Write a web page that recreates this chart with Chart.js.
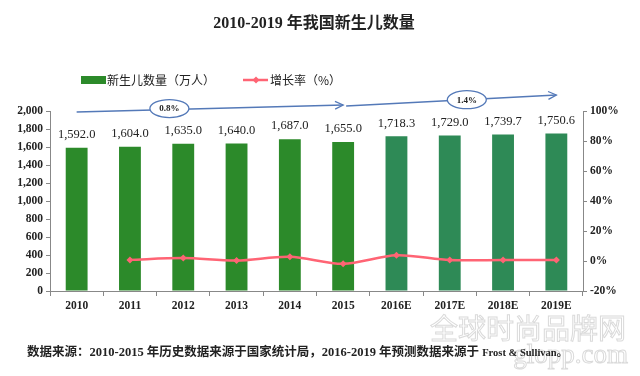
<!DOCTYPE html>
<html>
<head>
<meta charset="utf-8">
<script src="https://cdn.jsdelivr.net/npm/chart.js@4.4.0/dist/chart.umd.min.js"></script>
<style>
html,body{margin:0;padding:0;background:#fff;}
#wrap{width:640px;height:376px;position:relative;}
</style>
</head>
<body>
<div id="wrap"><canvas id="c" width="640" height="376"></canvas></div>
<script>
const titleText = '2010-2019 年我国新生儿数量';
const categories = ['2010','2011','2012','2013','2014','2015','2016E','2017E','2018E','2019E'];
const births = [1592.0,1604.0,1635.0,1640.0,1687.0,1655.0,1718.3,1729.0,1739.7,1750.6];
const growth = [null,0.75,1.93,0.31,2.87,-1.90,3.82,0.62,0.62,0.63];
const birthsLabel = '新生儿数量（万人）';
const growthLabel = '增长率（%）';
const cagrLabels = ['0.8%','1.4%'];
const sourceMain = '数据来源：2010-2015 年历史数据来源于国家统计局，2016-2019 年预测数据来源于 ';
const sourceTail = 'Frost & Sullivan。';
const watermark1 = '全球时尚品牌网';
const watermark2 = 'glopp.com';

const SERIF = '"Liberation Serif","Noto Sans CJK SC",serif';
const CJK = '"Noto Sans CJK SC","Liberation Serif",sans-serif';
const histColor = '#2C8A2A';
const foreColor = '#2E8A56';
const lineColor = '#FF6474';
const arrowColor = '#5479B8';

const barColors = categories.map(c => c.endsWith('E') ? foreColor : histColor);

function drawArrowLine(ctx, x1, y1, x2, y2, head) {
  ctx.beginPath(); ctx.moveTo(x1, y1); ctx.lineTo(x2, y2); ctx.stroke();
  if (head) {
    const a = Math.atan2(y2 - y1, x2 - x1);
    ctx.beginPath();
    ctx.moveTo(x2 - 9*Math.cos(a - 0.45), y2 - 9*Math.sin(a - 0.45));
    ctx.lineTo(x2, y2);
    ctx.lineTo(x2 - 9*Math.cos(a + 0.45), y2 - 9*Math.sin(a + 0.45));
    ctx.stroke();
  }
}

const decor = {
  id: 'decor',
  afterDraw(chart) {
    const ctx = chart.ctx, ca = chart.chartArea, xs = chart.scales.x;
    ctx.save();
    // title
    ctx.fillStyle = '#222';
    ctx.font = 'bold 16px ' + SERIF;
    ctx.textAlign = 'center'; ctx.textBaseline = 'middle';
    ctx.fillText(titleText, 314, 24);

    // legend
    ctx.fillStyle = histColor;
    ctx.fillRect(81, 76, 25, 8);
    ctx.fillStyle = '#222';
    ctx.font = '12px ' + CJK;
    ctx.textAlign = 'left';
    ctx.fillText(birthsLabel, 107, 80);
    ctx.strokeStyle = lineColor; ctx.lineWidth = 2.5;
    ctx.beginPath(); ctx.moveTo(243, 80); ctx.lineTo(268, 80); ctx.stroke();
    ctx.fillStyle = lineColor;
    ctx.beginPath(); ctx.moveTo(256, 76.5); ctx.lineTo(259.5, 80); ctx.lineTo(256, 83.5); ctx.lineTo(252.5, 80); ctx.closePath(); ctx.fill();
    ctx.fillStyle = '#222';
    ctx.fillText(growthLabel, 270, 80);

    // bar value labels
    const meta = chart.getDatasetMeta(0);
    ctx.font = '12.5px ' + SERIF;
    ctx.textAlign = 'center'; ctx.textBaseline = 'middle';
    ctx.fillStyle = '#222';
    meta.data.forEach((bar, i) => {
      ctx.fillText(births[i].toLocaleString('en-US', {minimumFractionDigits:1, maximumFractionDigits:1}), bar.x, bar.y - 13);
    });

    // CAGR arrows
    ctx.strokeStyle = arrowColor; ctx.lineWidth = 1.3;
    const a1x1 = xs.getPixelForValue(0), a1x2 = xs.getPixelForValue(5);
    const a1y1 = ca.top + 1, a1y2 = ca.top - 6;
    const e1x = xs.getPixelForValue(1.74);
    const e1y = a1y1 + (a1y2 - a1y1) * (e1x - a1x1) / (a1x2 - a1x1);
    const a2x1 = a1x2 + 3, a2x2 = xs.getPixelForValue(9);
    const a2y1 = ca.top - 5, a2y2 = ca.top - 16;
    const e2x = xs.getPixelForValue(7.32);
    const e2y = a2y1 + (a2y2 - a2y1) * (e2x - a2x1) / (a2x2 - a2x1);
    drawArrowLine(ctx, a1x1, a1y1, a1x2, a1y2, true);
    drawArrowLine(ctx, a2x1, a2y1, a2x2, a2y2, true);
    [[e1x, e1y - 1, cagrLabels[0]], [e2x, e2y, cagrLabels[1]]].forEach(([x, y, t]) => {
      ctx.beginPath(); ctx.ellipse(x, y, 19.5, 9, 0, 0, Math.PI*2);
      ctx.fillStyle = '#fff'; ctx.fill(); ctx.stroke();
      ctx.fillStyle = '#222'; ctx.font = 'bold 9px ' + SERIF;
      ctx.fillText(t, x, y + 0.5);
    });

    // watermark
    ctx.strokeStyle = '#dadada'; ctx.lineWidth = 1;
    ctx.font = '28px ' + CJK;
    ctx.textAlign = 'right';
    ctx.strokeText(watermark1, 626, 328);
    ctx.font = '27px ' + SERIF;
    ctx.strokeText(watermark2, 628, 356);

    // source
    ctx.fillStyle = '#222';
    ctx.font = 'bold 12.5px ' + SERIF;
    ctx.textAlign = 'left';
    ctx.fillText(sourceMain, 27, 353);
    const w = ctx.measureText(sourceMain).width;
    ctx.font = 'bold 10.5px ' + SERIF;
    ctx.fillText(sourceTail, 27 + w, 353.5);
    ctx.restore();
  }
};

new Chart(document.getElementById('c'), {
  data: {
    labels: categories,
    datasets: [
      {
        type: 'bar', label: birthsLabel, data: births, yAxisID: 'y',
        backgroundColor: barColors, categoryPercentage: 1, barPercentage: 0.41, order: 1
      },
      {
        type: 'line', label: growthLabel, data: growth, yAxisID: 'y1',
        borderColor: lineColor, backgroundColor: lineColor, borderWidth: 2.5,
        pointStyle: 'rectRot', pointRadius: 3.5, pointBorderWidth: 0, tension: 0.3, order: 0
      }
    ]
  },
  options: {
    responsive: false, animation: false,
    layout: { padding: { top: 111, left: 0, right: 0, bottom: 0 } },
    plugins: { legend: { display: false }, title: { display: false }, tooltip: { enabled: false } },
    scales: {
      x: {
        grid: { display: true, drawOnChartArea: false, tickLength: 5, color: '#888', offset: true },
        border: { color: '#888' },
        ticks: { color: '#222', font: { family: SERIF, size: 11.5, weight: 'bold' }, padding: 3 },
        afterFit(s) { s.height = 85; }
      },
      y: {
        position: 'left', min: 0, max: 2000,
        grid: { drawOnChartArea: false, tickLength: 4, color: '#888' },
        border: { color: '#888' },
        ticks: { stepSize: 200, color: '#222', font: { family: SERIF, size: 11.5, weight: 'bold' }, padding: 3,
          callback: v => v.toLocaleString('en-US') },
        afterFit(s) { s.width = 50; }
      },
      y1: {
        position: 'right', min: -20, max: 100,
        grid: { drawOnChartArea: false, tickLength: 4, color: '#888' },
        border: { color: '#888' },
        ticks: { stepSize: 20, color: '#222', font: { family: SERIF, size: 11.5, weight: 'bold' }, padding: 3,
          callback: v => v + '%' },
        afterFit(s) { s.width = 57; }
      }
    }
  },
  plugins: [decor]
});
</script>
</body>
</html>
